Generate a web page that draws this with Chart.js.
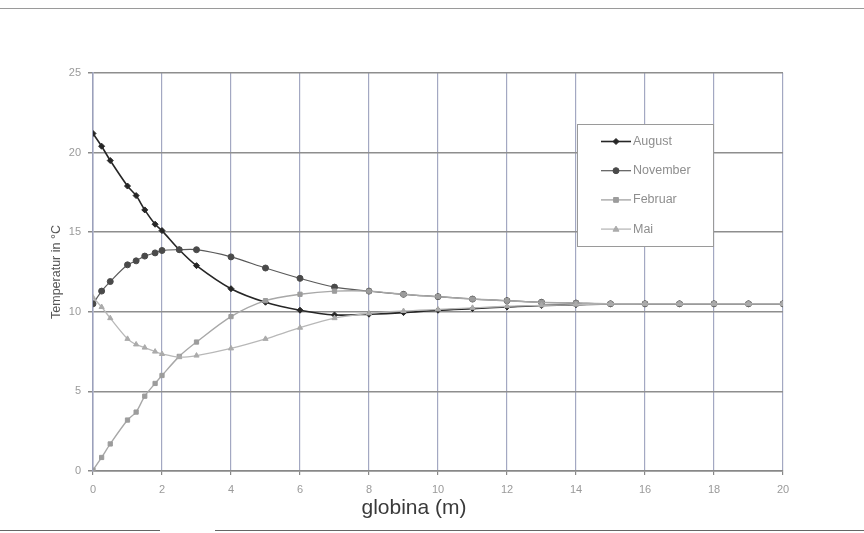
<!DOCTYPE html>
<html>
<head>
<meta charset="utf-8">
<script src="https://cdn.jsdelivr.net/npm/chart.js@4/dist/chart.umd.min.js"></script>
<style>
  html, body { margin: 0; padding: 0; background: #fff; }
  #wrap { position: relative; width: 864px; height: 533px; }
  canvas { position: absolute; left: 0; top: 0; }
  .edge { position: absolute; height: 1px; background: #9a9a9a; }
</style>
</head>
<body>
<div id="wrap">
  <canvas id="c" width="864" height="533"></canvas>
  <div class="edge" style="left:0;top:8px;width:864px;"></div>
  <div class="edge" style="left:0;top:530px;width:160px;background:#666;"></div>
  <div class="edge" style="left:215px;top:530px;width:649px;background:#666;"></div>
</div>
<script>
// depth (m)
const depths = [0, 0.25, 0.5, 1, 1.25, 1.5, 1.8, 2, 2.5, 3, 4, 5, 6, 7, 8, 9, 10, 11, 12, 13, 14, 15, 16, 17, 18, 19, 20];
// temperatures (°C)
const august   = [21.2, 20.4, 19.5, 17.9, 17.3, 16.4, 15.5, 15.1, 13.9, 12.9, 11.45, 10.6, 10.1, 9.8, 9.85, 9.95, 10.1, 10.2, 10.3, 10.4, 10.45, 10.5, 10.5, 10.5, 10.5, 10.5, 10.5];
const november = [10.5, 11.3, 11.9, 12.95, 13.2, 13.5, 13.7, 13.85, 13.9, 13.9, 13.45, 12.75, 12.1, 11.55, 11.3, 11.1, 10.95, 10.8, 10.7, 10.6, 10.55, 10.5, 10.5, 10.5, 10.5, 10.5, 10.5];
const februar  = [0.05, 0.85, 1.7, 3.2, 3.7, 4.7, 5.5, 6.0, 7.2, 8.1, 9.7, 10.7, 11.1, 11.3, 11.3, 11.1, 10.95, 10.8, 10.7, 10.6, 10.55, 10.5, 10.5, 10.5, 10.5, 10.5, 10.5];
const mai      = [10.9, 10.3, 9.6, 8.3, 7.95, 7.75, 7.5, 7.35, 7.15, 7.25, 7.7, 8.3, 9.0, 9.6, 9.9, 10.05, 10.15, 10.25, 10.35, 10.4, 10.45, 10.5, 10.5, 10.5, 10.5, 10.5, 10.5];
const seriesLabels = ['August', 'November', 'Februar', 'Mai'];
const xTicks = [0, 2, 4, 6, 8, 10, 12, 14, 16, 18, 20];
const yTicks = [0, 5, 10, 15, 20, 25];
const xTitle = 'globina (m)';
const yTitle = 'Temperatur in °C';

const toXY = arr => arr.map((v, i) => ({ x: depths[i], y: v }));

const styles = [
  { line: '#262626', point: '#262626', shape: 'rectRot', r: 3, w: 1.6 },
  { line: '#5a5a5a', point: '#4a4a4a', shape: 'circle', r: 3, w: 1.2 },
  { line: '#a8a8a8', point: '#9c9c9c', shape: 'rect', r: 3, w: 1.4 },
  { line: '#b8b8b8', point: '#ababab', shape: 'triangle', r: 3, w: 1.3 }
];
const values = [august, november, februar, mai];

const datasets = values.map((v, i) => ({
  label: seriesLabels[i],
  data: toXY(v),
  order: values.length - 1 - i,
  borderColor: styles[i].line,
  backgroundColor: styles[i].point,
  pointBackgroundColor: styles[i].point,
  pointBorderColor: styles[i].point,
  pointStyle: styles[i].shape,
  pointRadius: styles[i].r,
  pointBorderWidth: 1,
  borderWidth: styles[i].w,
  tension: 0.3,
  fill: false
}));

function drawShape(ctx, shape, x, y, r, color) {
  ctx.fillStyle = color; ctx.strokeStyle = color; ctx.lineWidth = 1;
  ctx.beginPath();
  if (shape === 'circle') { ctx.arc(x, y, r, 0, Math.PI * 2); }
  else if (shape === 'rect') { ctx.rect(x - r * 0.8, y - r * 0.8, r * 1.6, r * 1.6); }
  else if (shape === 'rectRot') { ctx.moveTo(x, y - r); ctx.lineTo(x + r, y); ctx.lineTo(x, y + r); ctx.lineTo(x - r, y); ctx.closePath(); }
  else if (shape === 'triangle') { ctx.moveTo(x, y - r); ctx.lineTo(x + r, y + r * 0.7); ctx.lineTo(x - r, y + r * 0.7); ctx.closePath(); }
  ctx.fill(); ctx.stroke();
}

const overlay = {
  id: 'overlay',
  afterDraw(chart) {
    const ctx = chart.ctx;
    ctx.save();
    // legend
    const bx = 577, by = 124, bw = 136, bh = 122;
    ctx.fillStyle = '#fff';
    ctx.fillRect(bx, by, bw, bh);
    ctx.strokeStyle = '#9a9a9a'; ctx.lineWidth = 1;
    ctx.strokeRect(bx + 0.5, by + 0.5, bw, bh);
    ctx.font = '12.5px "Liberation Sans", Arial, sans-serif';
    ctx.textBaseline = 'middle'; ctx.textAlign = 'left';
    chart.data.datasets.forEach((ds, i) => {
      const y = 141.5 + i * 29.2;
      ctx.strokeStyle = ds.borderColor; ctx.lineWidth = ds.borderWidth;
      ctx.beginPath(); ctx.moveTo(601, y); ctx.lineTo(631, y); ctx.stroke();
      drawShape(ctx, ds.pointStyle, 616, y, 3, ds.pointBackgroundColor);
      ctx.fillStyle = '#8e8e8e';
      ctx.fillText(ds.label, 633, y);
    });
    // x axis title
    ctx.font = '21px "Liberation Sans", Arial, sans-serif';
    ctx.fillStyle = '#3a3a3a';
    ctx.textAlign = 'center';
    ctx.fillText(xTitle, 414, 508);
    ctx.restore();
  }
};

new Chart(document.getElementById('c'), {
  type: 'line',
  data: { datasets },
  options: {
    responsive: false,
    animation: false,
    layout: { padding: { top: 73, right: 81, bottom: 0, left: 0 } },
    plugins: { legend: { display: false }, tooltip: { enabled: false } },
    scales: {
      x: {
        type: 'linear', min: 0, max: 20,
        afterFit: s => { s.height = 62; },
        afterBuildTicks: s => { s.ticks = xTicks.map(v => ({ value: v })); },
        ticks: { color: '#9a9a9a', font: { size: 11, family: '"Liberation Sans", Arial, sans-serif' }, padding: 8, maxRotation: 0 },
        grid: { color: '#a3a8c2', lineWidth: 1.2, tickLength: 4, tickColor: '#888' },
        border: { color: '#888', width: 1.5 }
      },
      y: {
        min: 0, max: 25,
        afterFit: s => { s.width = 93; },
        afterBuildTicks: s => { s.ticks = yTicks.map(v => ({ value: v })); },
        ticks: { color: '#9a9a9a', font: { size: 11, family: '"Liberation Sans", Arial, sans-serif' }, padding: 7 },
        grid: { color: '#8e8e8e', lineWidth: 1.5, tickLength: 5, tickColor: '#888' },
        border: { color: '#9ba0bb', width: 1.5 },
        title: { display: true, text: yTitle, color: '#555', font: { size: 12.5, family: '"Liberation Sans", Arial, sans-serif' }, padding: { top: 49, bottom: 0 } }
      }
    }
  },
  plugins: [overlay]
});
</script>
</body>
</html>
